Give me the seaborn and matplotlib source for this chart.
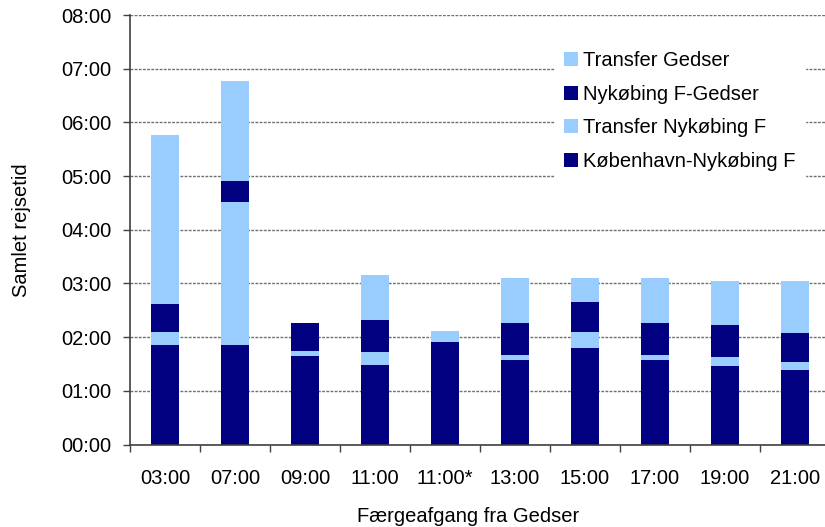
import numpy as np
import matplotlib
matplotlib.use("Agg")
import matplotlib.pyplot as plt
from matplotlib.patches import Patch
from matplotlib.ticker import FuncFormatter
import seaborn as sns

# Departure times from Gedser
departures = ["03:00", "07:00", "09:00", "11:00", "11:00*",
              "13:00", "15:00", "17:00", "19:00", "21:00"]

# Journey segments in minutes
kbh_nyk = [111, 111, 99, 89, 114, 94, 108, 94, 88, 83]        # København-Nykøbing F
transfer_nyk = [15, 160, 6, 14, 13, 6, 18, 6, 10, 9]          # Transfer Nykøbing F
nyk_gedser = [31, 24, 31, 36, 0, 36, 33, 36, 35, 33]          # Nykøbing F-Gedser
transfer_gedser = [189, 111, 0, 50, 0, 50, 27, 50, 50, 58]    # Transfer Gedser

series_names = ["København-Nykøbing F", "Transfer Nykøbing F",
                "Nykøbing F-Gedser", "Transfer Gedser"]
dark = "#000080"
light = "#99CCFF"
series_colors = [dark, light, dark, light]

y_ticks_min = list(range(0, 481, 60))

FS = 14.5

sns.set_theme(style="white")
plt.rcParams["font.family"] = ["Liberation Sans", "DejaVu Sans"]
plt.rcParams["text.color"] = "black"

fig = plt.figure(figsize=(8.25, 5.27), dpi=100)
ax = fig.add_axes([130 / 825, (527 - 444.5) / 527, 700 / 825, 429.5 / 527])

segments = np.array([kbh_nyk, transfer_nyk, nyk_gedser, transfer_gedser], dtype=float)
cumulative = np.cumsum(segments, axis=0)

# Draw tallest stack level first so lower segments overlay it
for level in range(3, -1, -1):
    sns.barplot(x=departures, y=cumulative[level], color=series_colors[level],
                width=0.41, saturation=1, edgecolor="none", linewidth=0, ax=ax)

ax.set_ylim(0, 480)
ax.set_xlim(-0.5, len(departures) - 0.5)
ax.set_yticks(y_ticks_min)
ax.yaxis.set_major_formatter(FuncFormatter(lambda v, p: f"{int(v) // 60:02d}:{int(v) % 60:02d}"))

ax.yaxis.grid(True, color="#707070", linestyle=(0, (2, 1)), linewidth=1.0)
ax.xaxis.grid(False)
ax.set_axisbelow(True)

for side in ["top", "right"]:
    ax.spines[side].set_visible(False)
for side in ["left", "bottom"]:
    ax.spines[side].set_color("#404040")
    ax.spines[side].set_linewidth(1.2)

ax.set_xticks(np.arange(-0.5, len(departures), 1), minor=True)
ax.tick_params(axis="x", which="major", length=0, pad=17.5, labelsize=FS, labelcolor="black")
ax.tick_params(axis="x", which="minor", bottom=True, length=5, width=1, color="#404040", direction="out")
ax.tick_params(axis="y", which="major", left=True, length=5, width=1, color="#404040",
               direction="out", pad=8.2, labelsize=FS, labelcolor="black")

ax.set_xlabel("")
fig.text(468 / 825, 1 - 522.5 / 527, "Færgeafgang fra Gedser", fontsize=FS,
         ha="center", va="baseline", color="black")
ax.set_ylabel("Samlet rejsetid", fontsize=FS, labelpad=22, color="black")

handles = [Patch(facecolor=series_colors[i], edgecolor="none") for i in range(3, -1, -1)]
labels = [series_names[i] for i in range(3, -1, -1)]
leg = ax.legend(handles, labels, loc="upper left",
                bbox_to_anchor=(555 / 825, 1 - 42 / 527), bbox_transform=fig.transFigure,
                frameon=True, fancybox=False, edgecolor="white", framealpha=1,
                fontsize=FS, handlelength=0.7, handleheight=0.7, handletextpad=0.25,
                labelspacing=0.73, borderpad=0.45, borderaxespad=0)

fig.savefig("out.png", dpi=100)
